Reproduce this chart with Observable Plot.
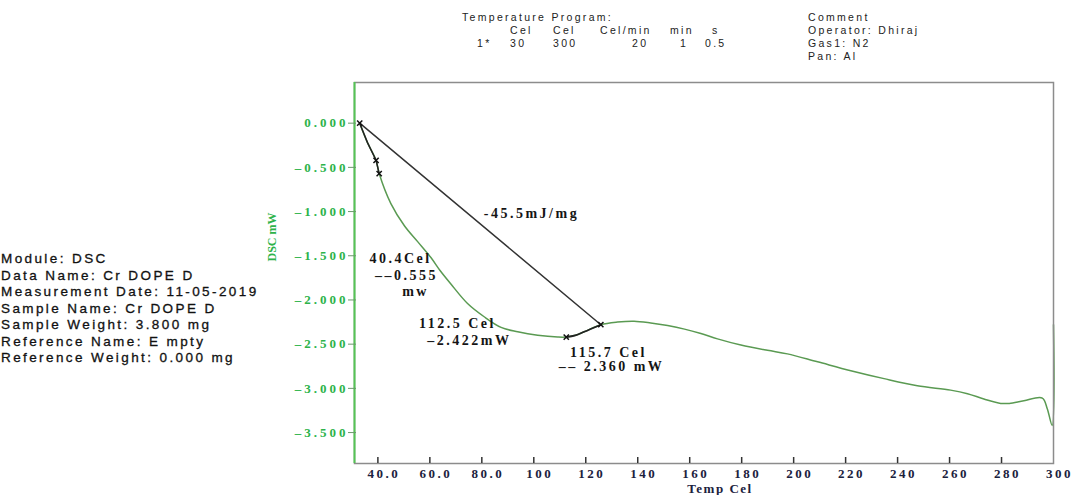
<!DOCTYPE html>
<html><head><meta charset="utf-8">
<script src="https://cdn.jsdelivr.net/npm/d3@7"></script>
<script src="https://cdn.jsdelivr.net/npm/@observablehq/plot@0.6"></script>
<style>
body{margin:0;background:#fff;}
#wrap{position:relative;width:1078px;height:495px;overflow:hidden;background:#fff;}
#wrap svg{position:absolute;left:0;top:0;}
.t{position:absolute;white-space:nowrap;line-height:1;}
.hdr{font-family:"Liberation Sans",Arial,sans-serif;font-size:10.5px;letter-spacing:2.3px;color:#222;}
.info{font-family:"Liberation Sans",Arial,sans-serif;font-size:13.5px;letter-spacing:2.4px;color:#111;line-height:16.5px;-webkit-text-stroke:0.3px #111;}
.ser{font-family:"Liberation Serif","Times New Roman",serif;font-weight:bold;}
</style></head><body><div id="wrap"></div>
<script>
// ---- data ----
const temp = [33.0,36.0,39.3,40.5,45.0,50.2,55.3,60.4,64.0,68.1,74.5,80.9,87.4,93.8,101.5,109.2,112.5,116.0,119.4,125.8,132.2,138.6,145.0,151.5,158.0,164.3,170.7,179.7,189.9,197.6,209.2,222.0,234.8,247.6,260.4,266.9,273.2,279.7,283.0,288.6,295.7,297.6,299.5,300.0];
const dsc  = [0.00,-0.22,-0.42,-0.57,-0.91,-1.16,-1.34,-1.52,-1.67,-1.82,-2.04,-2.19,-2.31,-2.36,-2.40,-2.42,-2.42,-2.40,-2.36,-2.28,-2.25,-2.24,-2.26,-2.29,-2.33,-2.38,-2.44,-2.51,-2.57,-2.61,-2.70,-2.80,-2.89,-2.97,-3.02,-3.06,-3.12,-3.17,-3.17,-3.14,-3.11,-3.23,-3.42,-2.28];
const baseT = [33.0, 125.8];
const baseV = [0.00, -2.28];
const markT = [33.0, 39.3, 40.5, 112.5, 125.8];
const markV = [0.00, -0.42, -0.57, -2.42, -2.28];
const annT = [99.1, 48.7, 51.0, 54.5, 70.6, 75.2, 128.7, 129.9];
const annV = [-1.02, -1.53, -1.72, -1.90, -2.27, -2.46, -2.59, -2.75];
const annLabel = ["-45.5mJ/mg", "40.4Cel", "\u2013\u20130.555", "mw", "112.5 Cel", "\u20132.422mW", "115.7 Cel", "\u2013\u2013 2.360 mW"];
const xTicks = [40,60,80,100,120,140,160,180,200,220,240,260,280];
const xLabelVals = [40,60,80,100,120,140,160,180,200,220,240,260,280,300];
const xTickLabels = ["40.0","60.0","80.0","100","120","140","160","180","200","220","240","260","280","300"];
const yTicks = [0,-0.5,-1,-1.5,-2,-2.5,-3,-3.5];
const yTickLabels = ["0.000","\u20130.500","\u20131.000","\u20131.500","\u20132.000","\u20132.500","\u20133.000","\u20133.500"];
const xDomain = [31, 300];
const yDomain = [-3.85, 0.46];
const infoLines = ["Module: DSC","Data Name: Cr DOPE D","Measurement Date: 11-05-2019","Sample Name: Cr DOPE D","Sample Weight: 3.800 mg","Reference Name: E mpty","Reference Weight: 0.000 mg"];
const progTitle = "Temperature Program:";
const progUnits = ["Cel","Cel","Cel/min","min","s"];
const progValues = ["1*","30","300","20","1","0.5"];
const commentLines = ["Comment","Operator: Dhiraj","Gas1: N2","Pan: Al"];

// ---- chart ----
const W = 1078, H = 495, mL = 354, mR = 25, mT = 82, mB = 32;
const idx = d3.range(temp.length);
const serif = "Liberation Serif, Times New Roman, serif";
const chart = Plot.plot({
  width: W, height: H,
  marginLeft: mL, marginRight: mR, marginTop: mT, marginBottom: mB,
  x: {domain: xDomain},
  y: {domain: yDomain},
  style: {background: "transparent", overflow: "visible"},
  marks: [
    Plot.line(idx, {x: i => temp[i], y: i => dsc[i], stroke: "#5a9a52", strokeWidth: 1.5, curve: "catmull-rom"}),
    Plot.line(idx.filter(i => temp[i] <= 40.5), {x: i => temp[i], y: i => dsc[i], stroke: "#222", strokeWidth: 1.5}),
    Plot.line(idx.filter(i => temp[i] >= 112.5 && temp[i] <= 125.8), {x: i => temp[i], y: i => dsc[i], stroke: "#222", strokeWidth: 1.8, curve: "catmull-rom"}),
    Plot.line(d3.range(baseT.length), {x: i => baseT[i], y: i => baseV[i], stroke: "#333", strokeWidth: 1.5}),
    Plot.dot(d3.range(markT.length), {x: i => markT[i], y: i => markV[i], symbol: "times", r: 2.5, stroke: "#111", strokeWidth: 1.5}),
    Plot.text(d3.range(annT.length), {x: i => annT[i], y: i => annV[i], text: i => annLabel[i], fontFamily: serif, fontWeight: "bold", fontSize: 14, fill: "#151515", textAnchor: "middle"}),
    Plot.frame({stroke: "#8c8c8c", strokeWidth: 1.5}),
    Plot.ruleX([xDomain[0]], {stroke: "#55c455", strokeWidth: 2}),
    Plot.axisX({ticks: xTicks, tickSize: 6, dy: -6, stroke: "#333", strokeWidth: 1.5, tickFormat: () => "", label: null}),
    Plot.axisY({ticks: yTicks, tickSize: 8, tickPadding: 0, dx: 2, stroke: "#6a9a6a", tickFormat: d => yTickLabels[yTicks.indexOf(d)], fontFamily: serif, fontWeight: "bold", fontSize: 13, fill: "#2db34a", label: null}),
    Plot.axisX({ticks: xLabelVals, tickSize: 0, tickPadding: 5, dx: 6, tickFormat: d => xTickLabels[xLabelVals.indexOf(d)], fontFamily: serif, fontWeight: "bold", fontSize: 13, fill: "#1b213d", label: null})
  ]
});
const wrap = document.getElementById("wrap");
wrap.appendChild(chart);
const s = d3.select(chart);
s.selectAll('g[aria-label="y-axis tick label"]').style("letter-spacing", "3px");
s.selectAll('g[aria-label="x-axis tick label"]').style("letter-spacing", "2.5px");
s.selectAll('g[aria-label="text"]').style("letter-spacing", "2.5px");

// ---- surrounding texts ----
function addText(cls, txt, left, top, extra) {
  const d = document.createElement("div");
  d.className = "t " + cls;
  d.textContent = txt;
  d.style.left = left + "px";
  d.style.top = top + "px";
  if (extra) Object.assign(d.style, extra);
  wrap.appendChild(d);
  return d;
}
addText("hdr", progTitle, 462, 12);
const unitX = [510, 553, 600, 670, 712];
progUnits.forEach((u, i) => addText("hdr", u, unitX[i], 25));
const valX = [477, 510, 553, 632, 680, 705];
progValues.forEach((v, i) => addText("hdr", v, valX[i], 38));
commentLines.forEach((c, i) => addText("hdr", c, 808, 12 + 13 * i));
const info = addText("info", "", 1, 251);
info.innerHTML = infoLines.join("<br>");
addText("ser", "DSC mW", 272, 237, {fontSize: "12px", color: "#2db34a", transform: "translate(-50%,-50%) rotate(-90deg)"});
addText("ser", "Temp Cel", 720, 488, {fontSize: "13px", color: "#1b213d", letterSpacing: "1.5px", transform: "translate(-50%,-50%)"});
</script></body></html>
